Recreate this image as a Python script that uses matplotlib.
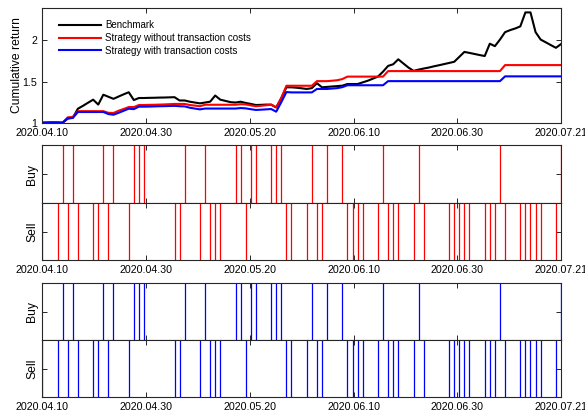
import numpy as np
import matplotlib
matplotlib.use("Agg")
import matplotlib.pyplot as plt

# ------------------------------------------------------------
# Data (one value per calendar day)
# ------------------------------------------------------------

tick_labels = ["2020.04.10", "2020.04.30", "2020.05.20",
               "2020.06.10", "2020.06.30", "2020.07.21"]

benchmark = [
    1.000, 1.003, 1.005, 1.004, 1.000, 1.050, 1.060, 1.170, 1.205, 1.243,
    1.280, 1.220, 1.340, 1.315, 1.290, 1.318, 1.345, 1.370, 1.275, 1.300,
    1.300, 1.302, 1.303, 1.305, 1.306, 1.308, 1.310, 1.270, 1.270, 1.255,
    1.245, 1.235, 1.245, 1.255, 1.330, 1.280, 1.265, 1.250, 1.245, 1.255,
    1.240, 1.228, 1.215, 1.217, 1.220, 1.220, 1.185, 1.300, 1.430, 1.430,
    1.425, 1.418, 1.410, 1.420, 1.480, 1.430, 1.435, 1.440, 1.445, 1.450,
    1.470, 1.470, 1.470, 1.490, 1.510, 1.535, 1.560, 1.620, 1.690, 1.710,
    1.770, 1.720, 1.670, 1.630, 1.645, 1.658, 1.670, 1.685, 1.698, 1.712,
    1.726, 1.740, 1.800, 1.860, 1.848, 1.835, 1.822, 1.810, 1.960, 1.930,
    2.010, 2.100, 2.125, 2.145, 2.170, 2.340, 2.340, 2.100, 2.010, 1.977,
    1.943, 1.910, 1.955,
]

no_cost = [
    1.000, 1.000, 1.000, 1.000, 1.000, 1.065, 1.070, 1.140, 1.140, 1.140,
    1.140, 1.140, 1.140, 1.120, 1.118, 1.145, 1.167, 1.190, 1.190, 1.215,
    1.215, 1.217, 1.218, 1.220, 1.222, 1.225, 1.228, 1.228, 1.228, 1.215,
    1.208, 1.200, 1.218, 1.218, 1.218, 1.218, 1.218, 1.218, 1.218, 1.225,
    1.222, 1.210, 1.200, 1.205, 1.212, 1.218, 1.187, 1.300, 1.449, 1.449,
    1.449, 1.449, 1.449, 1.449, 1.505, 1.505, 1.505, 1.510, 1.516, 1.530,
    1.560, 1.560, 1.560, 1.560, 1.560, 1.560, 1.560, 1.560, 1.627, 1.627,
    1.627, 1.627, 1.627, 1.627, 1.627, 1.627, 1.627, 1.627, 1.627, 1.627,
    1.627, 1.627, 1.627, 1.627, 1.627, 1.627, 1.627, 1.627, 1.627, 1.627,
    1.627, 1.700, 1.700, 1.700, 1.700, 1.700, 1.700, 1.700, 1.700, 1.700,
    1.700, 1.700, 1.700,
]

with_cost = [
    1.000, 1.000, 1.000, 1.000, 1.000, 1.053, 1.058, 1.130, 1.130, 1.130,
    1.130, 1.130, 1.130, 1.105, 1.097, 1.120, 1.145, 1.170, 1.165, 1.195,
    1.195, 1.196, 1.198, 1.200, 1.201, 1.203, 1.205, 1.200, 1.198, 1.182,
    1.172, 1.162, 1.172, 1.172, 1.172, 1.172, 1.172, 1.172, 1.172, 1.178,
    1.174, 1.164, 1.155, 1.158, 1.162, 1.166, 1.134, 1.250, 1.372, 1.368,
    1.368, 1.368, 1.368, 1.368, 1.410, 1.410, 1.410, 1.415, 1.420, 1.432,
    1.455, 1.455, 1.455, 1.455, 1.455, 1.455, 1.455, 1.455, 1.505, 1.505,
    1.505, 1.505, 1.505, 1.505, 1.505, 1.505, 1.505, 1.505, 1.505, 1.505,
    1.505, 1.505, 1.505, 1.505, 1.505, 1.505, 1.505, 1.505, 1.505, 1.505,
    1.505, 1.563, 1.563, 1.563, 1.563, 1.563, 1.563, 1.563, 1.563, 1.563,
    1.563, 1.563, 1.563,
]

# trading signals (day index), same for both strategies
buy_days = [4, 6, 12, 14, 18, 19, 20, 28, 32, 38, 39, 41, 42, 45, 46, 47,
            53, 56, 59, 67, 74, 90, 102]
sell_days = [0, 3, 5, 7, 10, 11, 13, 17, 26, 27, 31, 33, 34, 35, 40, 48, 49,
             52, 54, 55, 60, 61, 62, 63, 66, 68, 69, 70, 73, 75, 80, 81, 82,
             83, 84, 87, 88, 89, 91, 94, 95, 96, 97, 98, 101]

# ------------------------------------------------------------
# Figure
# ------------------------------------------------------------

plt.rcParams["font.family"] = ["Liberation Sans", "DejaVu Sans"]
axis_color = "#262626"

days = np.arange(len(benchmark))
xticks = np.linspace(0, days[-1], len(tick_labels))

fig = plt.figure(figsize=(5.85, 4.17), dpi=100)

left = 42.3 / 585
width = 518.7 / 585


def frac(top_px, bottom_px):
    return [left, 1 - bottom_px / 417, width, (bottom_px - top_px) / 417]


def style_axis(ax, show_xlabels=True):
    ax.set_xlim(days[0], days[-1])
    ax.set_xticks(xticks)
    if show_xlabels:
        ax.set_xticklabels(tick_labels)
    else:
        ax.set_xticklabels([])
    ax.tick_params(direction="in", top=True, right=True, length=3.5,
                   width=0.7, labelsize=7.7, color=axis_color,
                   labelcolor="black")
    ax.tick_params(axis="x", pad=3.5)
    for sp in ax.spines.values():
        sp.set_linewidth(0.8)
        sp.set_color(axis_color)


# --- cumulative return ---
ax0 = fig.add_axes(frac(8.3, 122.7))
ax0.plot(days, benchmark, color="black", lw=1.5, label="Benchmark")
ax0.plot(days, no_cost, color=(1, 0, 0), lw=1.5,
         label="Strategy without transaction costs")
ax0.plot(days, with_cost, color=(0, 0, 1), lw=1.5,
         label="Strategy with transaction costs")
ax0.set_ylim(1, 2.39)
ax0.set_yticks([1, 1.5, 2])
ax0.set_yticklabels(["1", "1.5", "2"])
style_axis(ax0)
ax0.set_ylabel("Cumulative return", fontsize=8.7, va="center")
ax0.yaxis.set_label_coords(-0.048, 0.5)
ax0.legend(loc="upper left", bbox_to_anchor=(0.032, 0.895), frameon=False,
           fontsize=7, handlelength=4.3, handletextpad=0.45,
           labelspacing=0.27, borderpad=0, borderaxespad=0)


# --- signal panels ---
def signal_panel(top_buy, mid, bottom_sell, color):
    ax_b = fig.add_axes(frac(top_buy, mid))
    ax_s = fig.add_axes(frac(mid, bottom_sell))
    ax_b.vlines(buy_days, 0, 1, colors=color, lw=0.9)
    ax_s.vlines(sell_days, 0, 1, colors=color, lw=0.9)
    for ax, name, lab in [(ax_b, "Buy", False), (ax_s, "Sell", True)]:
        ax.set_ylim(0, 1)
        ax.set_yticks([0.5])
        ax.set_yticklabels([""])
        style_axis(ax, show_xlabels=lab)
        ax.set_ylabel(name, fontsize=8.7, va="center")
        ax.yaxis.set_label_coords(-0.019, 0.5)


signal_panel(145.3, 203.0, 260.0, (1, 0, 0))
signal_panel(283.3, 340.3, 397.3, (0, 0, 1))

fig.savefig("out.png", dpi=100)
